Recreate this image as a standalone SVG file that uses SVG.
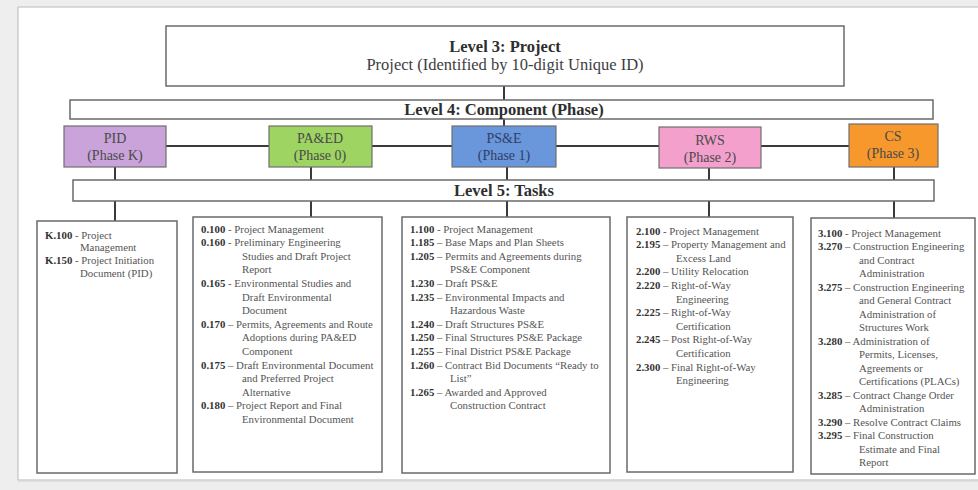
<svg xmlns="http://www.w3.org/2000/svg" width="978" height="490" viewBox="0 0 978 490">
<style>
.box{fill:#fff;stroke:#6a6a6a;stroke-width:1.5}
.ph{stroke:#6f6f6f;stroke-width:1.2}
.con{stroke:#3a3a3a;stroke-width:2;fill:none}
.ttl{font-family:"Liberation Serif","Times New Roman",serif;font-weight:bold;font-size:16.5px;fill:#2e2e2e;text-anchor:middle}
.sub{font-family:"Liberation Serif","Times New Roman",serif;font-size:16.5px;fill:#3e3e3e;text-anchor:middle}
.pt{font-family:"Liberation Serif","Times New Roman",serif;font-size:14px;fill:#4a4a4a;text-anchor:middle}
.tk{font-family:"Liberation Serif","Times New Roman",serif;font-size:10.8px;fill:#555}
.tk .b{font-weight:bold;fill:#333}
</style>
<rect x="0" y="0" width="978" height="490" fill="#eeeeee"/>
<rect x="18" y="7" width="975" height="473" fill="#ffffff" stroke="#c4c4c4" stroke-width="1.2"/>
<line x1="18" y1="481" x2="978" y2="481" stroke="#d8d8d8" stroke-width="1.5"/>

<g id="connectors">
<line class="con" x1="504" y1="86" x2="504" y2="100"/>
<line class="con" x1="504" y1="119" x2="504" y2="126"/>
<line class="con" x1="166" y1="146" x2="849" y2="146"/>
<line class="con" x1="115" y1="167" x2="115" y2="180"/>
<line class="con" x1="311" y1="167" x2="311" y2="180"/>
<line class="con" x1="507" y1="167" x2="507" y2="180"/>
<line class="con" x1="709" y1="168" x2="709" y2="180"/>
<line class="con" x1="894" y1="167" x2="894" y2="180"/>
<line class="con" x1="115" y1="201" x2="115" y2="221"/>
<line class="con" x1="311" y1="201" x2="311" y2="217"/>
<line class="con" x1="507" y1="201" x2="507" y2="217"/>
<line class="con" x1="709" y1="201" x2="709" y2="217"/>
<line class="con" x1="894" y1="201" x2="894" y2="218"/>
</g>

<g id="level3">
<rect class="box" x="166" y="26" width="678" height="60"/>
<text class="ttl" x="505" y="52">Level 3: Project</text>
<text class="sub" x="505" y="70">Project (Identified by 10-digit Unique ID)</text>
</g>

<g id="level4">
<rect class="box" x="70" y="100" width="863" height="19"/>
<text class="ttl" x="504" y="115">Level 4: Component (Phase)</text>
</g>

<g id="pid">
<rect class="ph" x="64" y="126" width="102" height="41" fill="#c9a3d9"/>
<text class="pt" x="115" y="143">PID</text>
<text class="pt" x="115" y="160">(Phase K)</text>
</g>
<g id="paed">
<rect class="ph" x="269" y="126" width="103" height="41" fill="#9ed462"/>
<text class="pt" x="320" y="143">PA&amp;ED</text>
<text class="pt" x="320" y="160">(Phase 0)</text>
</g>
<g id="pse">
<rect class="ph" x="452" y="126" width="104" height="41" fill="#6a96dc"/>
<text class="pt" x="504" y="143" fill="#2f4066" style="fill:#2f4066">PS&amp;E</text>
<text class="pt" x="504" y="160" style="fill:#2f4066">(Phase 1)</text>
</g>
<g id="rws">
<rect class="ph" x="659" y="127" width="102" height="41" fill="#f4a0cc"/>
<text class="pt" x="710" y="145">RWS</text>
<text class="pt" x="710" y="162">(Phase 2)</text>
</g>
<g id="cs">
<rect class="ph" x="849" y="124" width="89" height="43" fill="#f7982c"/>
<text class="pt" x="893" y="141">CS</text>
<text class="pt" x="893" y="158">(Phase 3)</text>
</g>

<g id="level5">
<rect class="box" x="73" y="180" width="861" height="21"/>
<text class="ttl" x="504" y="196">Level 5: Tasks</text>
</g>

<g id="tasks-k">
<rect class="box" x="37" y="221" width="140" height="252"/>
<text class="tk" x="45" y="238.5"><tspan class="b">K.100</tspan> - Project</text>
<text class="tk" x="80" y="251.3">Management</text>
<text class="tk" x="45" y="264"><tspan class="b">K.150</tspan> - Project Initiation</text>
<text class="tk" x="80" y="276.8">Document (PID)</text>
</g>

<g id="tasks-0">
<rect class="box" x="193" y="217" width="189" height="255"/>
<text class="tk" x="201" y="232.5"><tspan class="b">0.100</tspan> - Project Management</text>
<text class="tk" x="201" y="246.1"><tspan class="b">0.160</tspan> - Preliminary Engineering</text>
<text class="tk" x="242" y="259.7">Studies and Draft Project</text>
<text class="tk" x="242" y="273.3">Report</text>
<text class="tk" x="201" y="286.9"><tspan class="b">0.165</tspan> - Environmental Studies and</text>
<text class="tk" x="242" y="300.5">Draft Environmental</text>
<text class="tk" x="242" y="314.1">Document</text>
<text class="tk" x="201" y="327.7"><tspan class="b">0.170</tspan> – Permits, Agreements and Route</text>
<text class="tk" x="242" y="341.3">Adoptions during PA&amp;ED</text>
<text class="tk" x="242" y="354.9">Component</text>
<text class="tk" x="201" y="368.5"><tspan class="b">0.175</tspan> – Draft Environmental Document</text>
<text class="tk" x="242" y="382.1">and Preferred Project</text>
<text class="tk" x="242" y="395.7">Alternative</text>
<text class="tk" x="201" y="409.3"><tspan class="b">0.180</tspan> – Project Report  and Final</text>
<text class="tk" x="242" y="422.9">Environmental Document</text>
</g>

<g id="tasks-1">
<rect class="box" x="402" y="217" width="208" height="256"/>
<text class="tk" x="410" y="232.5"><tspan class="b">1.100</tspan> - Project Management</text>
<text class="tk" x="410" y="246.1"><tspan class="b">1.185</tspan> – Base Maps and Plan Sheets</text>
<text class="tk" x="410" y="259.7"><tspan class="b">1.205</tspan> – Permits and Agreements during</text>
<text class="tk" x="450" y="273.3">PS&amp;E Component</text>
<text class="tk" x="410" y="286.9"><tspan class="b">1.230</tspan> – Draft PS&amp;E</text>
<text class="tk" x="410" y="300.5"><tspan class="b">1.235</tspan> – Environmental Impacts and</text>
<text class="tk" x="450" y="314.1">Hazardous Waste</text>
<text class="tk" x="410" y="327.7"><tspan class="b">1.240</tspan> – Draft Structures PS&amp;E</text>
<text class="tk" x="410" y="341.3"><tspan class="b">1.250</tspan> – Final Structures PS&amp;E Package</text>
<text class="tk" x="410" y="354.9"><tspan class="b">1.255</tspan> – Final District PS&amp;E Package</text>
<text class="tk" x="410" y="368.5"><tspan class="b">1.260</tspan> – Contract Bid Documents “Ready to</text>
<text class="tk" x="450" y="382.1">List”</text>
<text class="tk" x="410" y="395.7"><tspan class="b">1.265</tspan> – Awarded and Approved</text>
<text class="tk" x="450" y="409.3">Construction Contract</text>
</g>

<g id="tasks-2">
<rect class="box" x="627" y="217" width="166" height="255"/>
<text class="tk" x="636" y="234.5"><tspan class="b">2.100</tspan> - Project Management</text>
<text class="tk" x="636" y="248.1"><tspan class="b">2.195</tspan> – Property Management and</text>
<text class="tk" x="676" y="261.7">Excess Land</text>
<text class="tk" x="636" y="275.3"><tspan class="b">2.200</tspan> – Utility Relocation</text>
<text class="tk" x="636" y="288.9"><tspan class="b">2.220</tspan> – Right-of-Way</text>
<text class="tk" x="676" y="302.5">Engineering</text>
<text class="tk" x="636" y="316.1"><tspan class="b">2.225</tspan> – Right-of-Way</text>
<text class="tk" x="676" y="329.7">Certification</text>
<text class="tk" x="636" y="343.3"><tspan class="b">2.245</tspan> – Post Right-of-Way</text>
<text class="tk" x="676" y="356.9">Certification</text>
<text class="tk" x="636" y="370.5"><tspan class="b">2.300</tspan> – Final Right-of-Way</text>
<text class="tk" x="676" y="384.1">Engineering</text>
</g>

<g id="tasks-3">
<rect class="box" x="811" y="218" width="164" height="256"/>
<text class="tk" x="818" y="236.5"><tspan class="b">3.100</tspan> - Project Management</text>
<text class="tk" x="818" y="250"><tspan class="b">3.270</tspan> – Construction Engineering</text>
<text class="tk" x="859" y="263.5">and Contract</text>
<text class="tk" x="859" y="277">Administration</text>
<text class="tk" x="818" y="290.5"><tspan class="b">3.275</tspan> – Construction Engineering</text>
<text class="tk" x="859" y="304">and General Contract</text>
<text class="tk" x="859" y="317.5">Administration of</text>
<text class="tk" x="859" y="331">Structures Work</text>
<text class="tk" x="818" y="344.5"><tspan class="b">3.280</tspan> – Administration of</text>
<text class="tk" x="859" y="358">Permits, Licenses,</text>
<text class="tk" x="859" y="371.5">Agreements or</text>
<text class="tk" x="859" y="385">Certifications (PLACs)</text>
<text class="tk" x="818" y="398.5"><tspan class="b">3.285</tspan> – Contract Change Order</text>
<text class="tk" x="859" y="412">Administration</text>
<text class="tk" x="818" y="425.5"><tspan class="b">3.290</tspan> – Resolve Contract Claims</text>
<text class="tk" x="818" y="439"><tspan class="b">3.295</tspan> – Final Construction</text>
<text class="tk" x="859" y="452.5">Estimate and Final</text>
<text class="tk" x="859" y="466">Report</text>
</g>
</svg>
